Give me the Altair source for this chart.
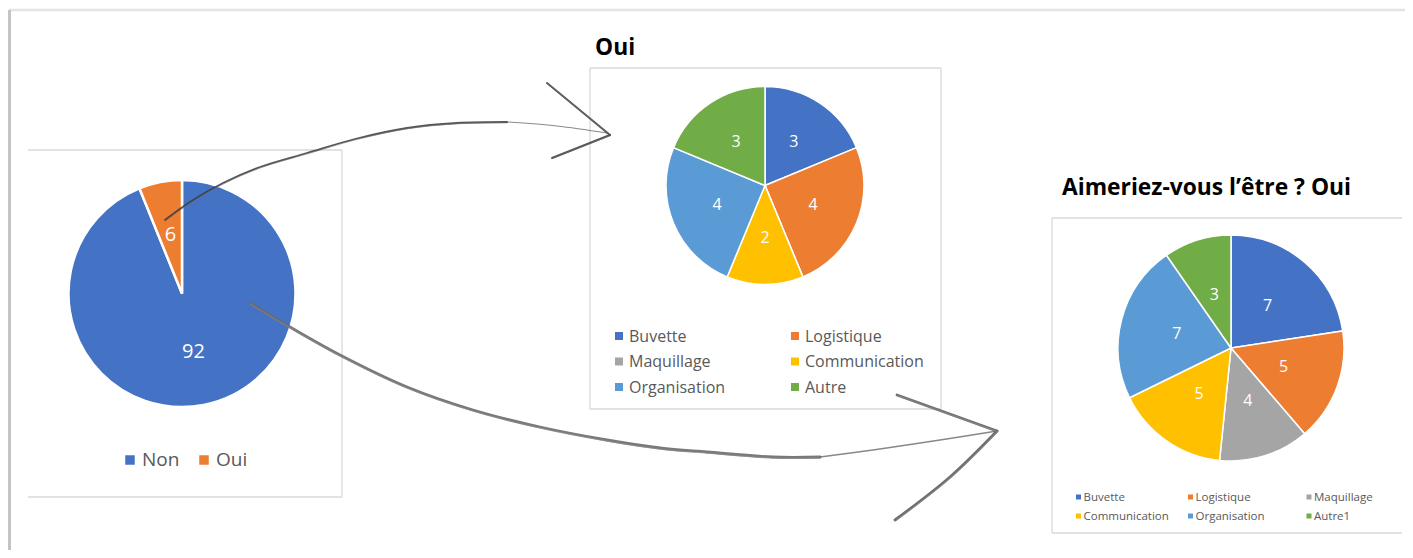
import altair as alt
import pandas as pd

# ---------------- data ----------------
left_cats = ["Non", "Oui"]
left_vals = [92, 6]

mid_title = "Oui"
mid_cats = ["Buvette", "Logistique", "Maquillage", "Communication", "Organisation", "Autre"]
mid_vals = [3, 4, 0, 2, 4, 3]

right_title = "Aimeriez-vous l’être ? Oui"
right_cats = ["Buvette", "Logistique", "Maquillage", "Communication", "Organisation", "Autre1"]
right_vals = [7, 5, 4, 5, 7, 3]

color_domain = ["Non", "Oui", "Buvette", "Logistique", "Maquillage",
                "Communication", "Organisation", "Autre", "Autre1"]
color_range = ["#4472C4", "#ED7D31", "#4472C4", "#ED7D31", "#A5A5A5",
               "#FFC000", "#5B9BD5", "#70AD47", "#70AD47"]

# hand-drawn arrows (decoration, page pixel coordinates)
arrow1_main_x = [165, 190, 223, 260, 307, 355, 407, 457, 507]
arrow1_main_y = [220, 202, 183, 167, 153, 139, 128, 123, 122]
arrow1_tail_x = [507, 557, 607]
arrow1_tail_y = [122, 126, 133]
arrow1_head_x = [[547, 610], [610, 552]]
arrow1_head_y = [[83, 135], [135, 158]]

arrow2_main_x = [250, 290, 340, 407, 473, 540, 607, 660, 707, 773, 820]
arrow2_main_y = [303, 327, 355, 387, 410, 427, 440, 448, 452, 457, 457]
arrow2_tail_x = [820, 873, 940, 997]
arrow2_tail_y = [457, 450, 440, 431]
arrow2_head_x = [[897, 997], [997, 950, 895]]
arrow2_head_y = [[395, 431], [431, 477, 520]]

# ---------------- layout ----------------
OX, OY = 8, 8
W, H = 1397, 542
FONT = "Open Sans"
LEG_COLOR = "#595959"

xs = alt.Scale(domain=[OX, OX + W], nice=False, zero=False)
ys = alt.Scale(domain=[OY, OY + H], nice=False, zero=False, reverse=True)
cscale = alt.Scale(domain=color_domain, range=color_range)


def X(f):
    return alt.X(f, type="quantitative", scale=xs, axis=None)


def Y(f):
    return alt.Y(f, type="quantitative", scale=ys, axis=None)


def pie(cats, vals, cx, cy, r, lr, fs, sw=1.5):
    df = pd.DataFrame({"cat": cats, "value": vals, "idx": list(range(len(cats)))})
    base = alt.Chart(df).encode(
        theta=alt.Theta("value:Q", stack=True),
        order=alt.Order("idx:Q", sort="ascending"),
    )
    arcs = base.mark_arc(outerRadius=r, stroke="white", strokeWidth=sw).encode(
        color=alt.Color("cat:N", scale=cscale, legend=None),
        x=alt.value(cx - OX), y=alt.value(cy - OY),
    )
    text = base.transform_filter("datum.value > 0").mark_text(
        radius=lr, fontSize=fs, font=FONT, color="white", baseline="middle", align="center"
    ).encode(
        text="value:Q", detail="cat:N",
        x=alt.value(cx - OX), y=alt.value(cy - OY),
    )
    return alt.layer(arcs, text)


def legend(cats, col_x, row_y, ncol, sq, gap, fs, toff):
    rows = []
    for i, c in enumerate(cats):
        sx = col_x[i % ncol]
        sy = row_y[i // ncol]
        rows.append({"cat": c, "sx": sx, "sy": sy, "tx": sx + gap, "ty": sy + toff})
    df = pd.DataFrame(rows)
    sqs = alt.Chart(df).mark_square(size=sq * sq, opacity=1).encode(
        x=X("sx"), y=Y("sy"),
        color=alt.Color("cat:N", scale=cscale, legend=None),
    )
    txt = alt.Chart(df).mark_text(
        align="left", baseline="alphabetic", fontSize=fs, font=FONT, color=LEG_COLOR
    ).encode(x=X("tx"), y=Y("ty"), text="cat:N")
    return alt.layer(sqs, txt)


def rules(segs, color, width):
    df = pd.DataFrame(segs, columns=["x", "y", "x2", "y2"])
    return alt.Chart(df).mark_rule(color=color, strokeWidth=width).encode(
        x=X("x"), y=Y("y"), x2="x2:Q", y2="y2:Q"
    )


def stroke(parts, color, width, opacity=0.9, dx=0.0, dy=0.0):
    rows = []
    for s, (px, py) in enumerate(parts):
        for i, (a, b) in enumerate(zip(px, py)):
            rows.append({"seg": s, "i": i, "x": a + dx, "y": b + dy})
    df = pd.DataFrame(rows)
    return alt.Chart(df).mark_line(
        color=color, strokeWidth=width, opacity=opacity,
        interpolate="catmull-rom", strokeCap="round", strokeJoin="round",
    ).encode(x=X("x"), y=Y("y"), detail="seg:N", order="i:Q")


# slide frame
frame_top = rules([(9, 10, 1411, 10)], "#e4e4e4", 2.5)
frame_left = rules([(9.5, 10, 9.5, 558)], "#c4c4c4", 3)
frame_right = rules([(1410, 10, 1410, 558)], "#f3f3f3", 2)

# chart boxes
boxes = rules([
    (28, 150, 342, 150), (342, 150, 342, 497), (28, 497, 342, 497),
    (590, 68, 941, 68), (941, 68, 941, 409), (590, 409, 941, 409), (590, 68, 590, 409),
    (1052, 218, 1402, 218), (1052, 533, 1402, 533), (1052, 218, 1052, 533),
], "#D9D9D9", 1.3)

# titles
titles_df = pd.DataFrame({"t": [mid_title, right_title], "x": [595, 1062], "y": [55, 195]})
titles = alt.Chart(titles_df).mark_text(
    align="left", baseline="alphabetic", fontSize=22.8, fontWeight="bold", font=FONT, color="#000000"
).encode(x=X("x"), y=Y("y"), text="t:N")

pie_left = pie(left_cats, left_vals, 182, 293.5, 113.5, 60, 20, 2.5)
pie_mid = pie(mid_cats, mid_vals, 765, 185.5, 99, 52, 16)
pie_right = pie(right_cats, right_vals, 1231, 348, 113, 56, 16)

leg_left = legend(left_cats, [130, 204], [460], 2, 9.5, 12, 19, 6)
leg_mid = legend(mid_cats, [619, 795], [336, 361.5, 387], 2, 8, 10, 16, 5.5)
leg_right = legend(right_cats, [1078.5, 1190.5, 1309], [497, 516], 3, 5, 5, 11.5, 4)

a1_main = [(arrow1_main_x, arrow1_main_y)]
a1_thin = [(arrow1_tail_x, arrow1_tail_y)]
a1_head = list(zip(arrow1_head_x, arrow1_head_y))
a2_main = [(arrow2_main_x, arrow2_main_y)]
a2_thin = [(arrow2_tail_x, arrow2_tail_y)]
a2_head = list(zip(arrow2_head_x, arrow2_head_y))

arrow_layers = [
    stroke(a1_main, "#3a3a3a", 1.8, 0.85),
    stroke(a1_main, "#6a6a6a", 1.0, 0.6, 0.6, 0.8),
    stroke(a1_thin, "#5a5a5a", 1.1, 0.7),
    stroke(a1_head, "#3a3a3a", 2.0, 0.85),
    stroke(a1_head, "#6a6a6a", 1.0, 0.6, 0.7, 0.5),
    stroke(a2_main, "#6a6a6a", 2.8, 0.9),
    stroke(a2_main, "#8a8a8a", 1.2, 0.7, 0.4, 1.2),
    stroke(a2_thin, "#6a6a6a", 1.4, 0.8),
    stroke(a2_head, "#5e5e5e", 2.8, 0.9),
    stroke(a2_head, "#8a8a8a", 1.2, 0.7, 0.8, 0.6),
]

chart = alt.layer(
    frame_top, frame_left, frame_right, boxes, titles,
    pie_left, pie_mid, pie_right,
    leg_left, leg_mid, leg_right,
    *arrow_layers,
).resolve_scale(theta="independent").properties(
    width=W, height=H,
    autosize=alt.AutoSizeParams(type="none"),
    padding=0, background="white",
).configure_view(strokeWidth=0)

chart.save("out.html", embed_options={"renderer": "svg", "actions": False})
